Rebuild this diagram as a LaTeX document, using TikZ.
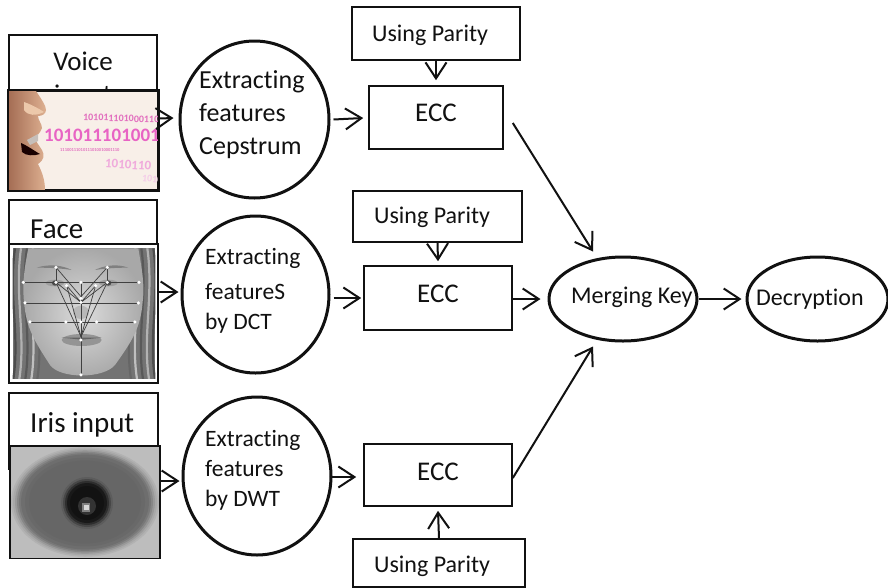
\documentclass[tikz,border=0pt]{standalone}
\usepackage{fontspec}
\setmainfont[Ligatures=NoCommon]{Carlito}
\usetikzlibrary{arrows.meta,shapes.geometric}
\definecolor{inkc}{HTML}{111111}
\definecolor{paper}{RGB}{248,239,232}
\definecolor{skinA}{RGB}{165,110,85}
\definecolor{skinB}{RGB}{222,176,145}
\definecolor{skinC}{RGB}{236,200,170}
\definecolor{pinkA}{RGB}{226,110,190}
\definecolor{pinkB}{RGB}{232,100,196}
\definecolor{pinkC}{RGB}{240,170,220}
\definecolor{pinkD}{RGB}{245,205,232}
\tikzset{
  x=1pt,y=-1pt,
  boxn/.style={draw=inkc,line width=1.6pt,fill=white,rectangle,inner sep=0pt,minimum width=#1},
  blob/.style={draw=inkc,line width=3pt,fill=white,ellipse,inner sep=0pt},
  imgn/.style={draw=inkc,line width=1.6pt,rectangle,inner sep=0pt},
  arr/.style={draw=inkc,line width=2pt,-{Straight Barb[length=16pt,width=21pt,line width=2pt]}},
  txt/.style={inner sep=0pt,text=inkc,align=left},
  big/.style={txt,font=\fontsize{26}{33}\selectfont},
  mid/.style={txt,font=\fontsize{23.5}{30}\selectfont},
  lab/.style={txt,font=\fontsize{24}{25}\selectfont},
  ecct/.style={txt,font=\fontsize{27}{25}\selectfont},
  dotn/.style={circle,fill=white,inner sep=0pt,minimum size=3.5pt},
  fl/.style={line width=0.7pt,draw=black!75},
  digit/.style={inner sep=0pt,text=#1,font=\fontsize{10}{10}\selectfont\bfseries},
}
\begin{document}
\begin{tikzpicture}
\useasboundingbox (0,0) rectangle (888,587);
% input boxes
\node[boxn=148pt,minimum height=80pt] (voicebox) at (83,75) {};
\node[txt,font=\fontsize{27}{33}\selectfont,align=center,anchor=north] (voicetxt) at (83,52) {Voice\\input};
\node[boxn=148pt,minimum height=75pt] (facebox) at (83,237.5) {};
\node[txt,font=\fontsize{29}{33}\selectfont,anchor=base west] (facetxt) at (30,238) {Face};
\node[boxn=149pt,minimum height=76pt] (irisbox) at (83.5,431) {};
\node[txt,font=\fontsize{29}{33}\selectfont,anchor=base west] (iristxt) at (30,432) {Iris input};
% voice image
\node[imgn,fill=paper,minimum width=149pt,minimum height=99pt] (voiceimg) at (83.5,140.5) {};
\begin{scope}
\clip (9,91) rectangle (158,190);
\shade[left color=skinA,right color=skinB] (9,91) -- (36,91) .. controls (42,100) and (46,106) .. (46,110) .. controls (46,114) and (42,116) .. (38,116) .. controls (38,120) and (42,124) .. (42,128) .. controls (40,134) and (36,136) .. (34,138) -- (42,150) .. controls (45,155) and (44,160) .. (38,164) .. controls (42,172) and (45,180) .. (45,190) -- (9,190) -- cycle;
\fill[skinC] (24,102) .. controls (30,104) and (38,108) .. (44,112) .. controls (36,116) and (28,116) .. (24,110) -- cycle;
\fill[black!90!red] (21,143) .. controls (28,146) and (36,152) .. (40,154) .. controls (34,156) and (26,156) .. (22,152) -- cycle;
\fill[paper!80!black] (27,140) -- (38,134) -- (38,141) -- (30,145) -- cycle;
\node[digit=pinkA,rotate=-2,anchor=west] (d1) at (83,117) {101011101000110};
\node[digit=pinkB,font=\fontsize{19}{19}\selectfont\bfseries,anchor=west] (d2) at (44,135) {101011101001};
\node[digit=pinkA,font=\fontsize{4.5}{5}\selectfont\bfseries,anchor=west] (d3) at (60,150) {11100111010111010010001110};
\node[digit=pinkC,font=\fontsize{13}{13}\selectfont\bfseries,rotate=-4,anchor=west] (d4) at (105,163) {1010110};
\node[digit=pinkD,font=\fontsize{10}{10}\selectfont\bfseries,rotate=-6,anchor=west] (d5) at (142,178) {1010};
\end{scope}
\draw[draw=inkc,line width=1.6pt] (voiceimg.south west) rectangle (voiceimg.north east);
% face image
\node[imgn,fill=white,minimum width=149pt,minimum height=139pt] (faceimg) at (83.5,313.5) {};
\begin{scope}[shift={(0,195)},x=0.3333pt,y=-0.3333pt]
\clip (38,160) rectangle (466,552);
\fill[black!55] (38,160) rectangle (466,552);
\foreach \o/\g in {0/70,18/30,36/65,54/25,72/60}
  {\draw[black!\g,line width=2.2pt] ({45+\o},160) .. controls ({25+\o},300) and ({60+\o},420) .. ({40+\o},552);
   \draw[black!\g,line width=2.2pt] ({460-\o},160) .. controls ({480-\o},300) and ({445-\o},420) .. ({465-\o},552);}
\shade[inner color=black!14,outer color=black!34] (85,160) -- (415,160) .. controls (425,220) and (435,270) .. (428,320) .. controls (422,400) and (395,440) .. (345,510) .. controls (310,552) and (180,552) .. (150,510) .. controls (105,440) and (78,400) .. (72,320) .. controls (66,260) and (75,210) .. (85,160) -- cycle;
\fill[black!50] (110,218) .. controls (150,205) and (190,212) .. (215,225) .. controls (185,220) and (150,218) .. (110,218) -- cycle;
\fill[black!50] (385,218) .. controls (350,205) and (310,212) .. (285,225) .. controls (315,220) and (350,218) .. (385,218) -- cycle;
\fill[black!38] (165,264) ellipse (28 and 10);
\fill[black!38] (325,264) ellipse (28 and 10);
\fill[black!70] (165,264) ellipse (9 and 8);
\fill[black!70] (325,264) ellipse (9 and 8);
\fill[black!28] (243,352) ellipse (24 and 20);
\fill[black!42] (245,435) ellipse (60 and 18);
\fill[black!62] (185,428) -- (305,428) -- (245,434) -- cycle;
\foreach \p/\q in {168/217,322/217}
  \draw[fl] (\p,\q) -- (243,305);
\foreach \p/\q in {168/262,322/262,200/272,287/272}
  {\draw[fl] (\p,\q) -- (243,322);\draw[fl] (\p,\q) -- (243,425);}
\draw[fl] (168,217) -- (168,262);
\draw[fl] (322,217) -- (322,262);
\draw[fl] (70,262) -- (417,262);
\draw[fl] (75,324) -- (415,324);
\draw[fl] (90,381) -- (405,381);
\draw[fl] (243,262) -- (243,540);
\foreach \p/\q in {168/217,322/217,70/262,168/262,243/262,322/262,417/262,200/272,287/272,243/310,243/322,75/324,415/324,90/381,198/381,243/381,290/381,405/381,243/435,243/540}
  \node[dotn] at (\p,\q) {};
\end{scope}
% iris image
\node[imgn,fill=black!26,minimum width=148pt,minimum height=111pt] (irisimg) at (85,502.5) {};
\begin{scope}
\clip (11,447) rectangle (159,558);
\fill[black!26] (11,447) rectangle (159,558);
\foreach \r/\g in {74/30,72/34,70/40,68/47,66/53,64/57,60/59,56/60}
  \fill[black!\g] (85,502) ellipse ({\r} and {\r*0.74});
\foreach \r/\g in {26/64,24/72,22/82,20/90,17/93}
  \fill[black!\g] (87,503) circle ({\r});
\fill[black!80] (87,506) circle (9);
\fill[black!50] (82,503) rectangle (90,512);
\fill[black!15] (83.5,505) rectangle (88.5,510);
\end{scope}
\draw[draw=inkc,line width=1.6pt] (irisimg.south west) -- (irisimg.north west) -- (irisimg.north east) -- (irisimg.south east);
% ellipses
\node[blob,minimum width=149pt,minimum height=157pt] (c1) at (254.5,119.5) {};
\node[blob,minimum width=147pt,minimum height=157pt] (c2) at (255.5,294.5) {};
\node[blob,minimum width=148pt,minimum height=158pt] (c3) at (257,476) {};
\node[big,anchor=north west] (c1t) at (199,70) {Extracting\\features\\Cepstrum};
\node[mid,anchor=north west] (c2t) at (205,248) {Extracting\\[5pt]featureS\\by DCT};
\node[mid,anchor=north west] (c3t) at (205,430) {Extracting\\features\\by DWT};
% boxes
\node[boxn=168pt,minimum height=53pt] (p1) at (436,33.5) {};
\node[lab,anchor=base west] (p1t) at (372,41) {Using Parity};
\node[boxn=134pt,minimum height=63pt] (e1) at (436,117.5) {};
\node[ecct] (e1t) at (436,113) {ECC};
\node[boxn=169pt,minimum height=51pt] (p2) at (437.5,216.5) {};
\node[lab,anchor=base west] (p2t) at (374,223) {Using Parity};
\node[boxn=148pt,minimum height=64pt] (e2) at (438,298) {};
\node[ecct] (e2t) at (438,294) {ECC};
\node[boxn=148pt,minimum height=62pt] (e3) at (438,475) {};
\node[ecct] (e3t) at (438,472) {ECC};
\node[boxn=172pt,minimum height=48pt] (p3) at (439,563) {};
\node[lab,anchor=base west] (p3t) at (374,572) {Using Parity};
\node[blob,minimum width=148pt,minimum height=84pt] (merge) at (623,299) {};
\node[lab,anchor=base west] (merget) at (571,303) {Merging Key};
\node[blob,minimum width=141pt,minimum height=84pt] (decr) at (817.5,299) {};
\node[lab,anchor=base west] (decrt) at (756,305) {Decryption};
% connectors
\draw[arr] ([yshift=22pt]voiceimg.east) -- ([yshift=1.5pt,xshift=-5pt]c1.west);
\draw[arr] ([yshift=21.5pt]faceimg.east) -- ([yshift=2.5pt,xshift=-2pt]c2.west);
\draw[arr] ([yshift=21.5pt]irisimg.east) -- ([yshift=-5pt,xshift=-2pt]c3.west);
\draw[arr] ([xshift=3pt]c1.east) -- ([xshift=-5pt,yshift=-0.5pt]e1.west);
\draw[arr] ([xshift=3pt,yshift=-3.5pt]c2.east) -- ([xshift=-2pt]e2.west);
\draw[arr] ([xshift=-3pt,yshift=-1pt]c3.east) -- ([xshift=-7pt,yshift=-2pt]e3.west);
\draw[arr] (p1.south) -- ([yshift=5pt]e1.north);
\draw[arr] (p2.south) -- ([yshift=4pt]e2.north);
\draw[arr] (p3.north) -- ([yshift=-4pt]e3.south);
\draw[arr] ([xshift=9pt,yshift=-5.5pt]e1.east) -- ([xshift=-30pt,yshift=4pt]merge.north);
\draw[arr] (e2.east |- merge.west) -- ([xshift=-7pt]merge.west);
\draw[arr] ([yshift=-3pt]e3.east) -- ([xshift=-30pt,yshift=-4pt]merge.south);
\draw[arr] (merge.east) -- ([xshift=-4pt]decr.west);
\end{tikzpicture}
\end{document}
